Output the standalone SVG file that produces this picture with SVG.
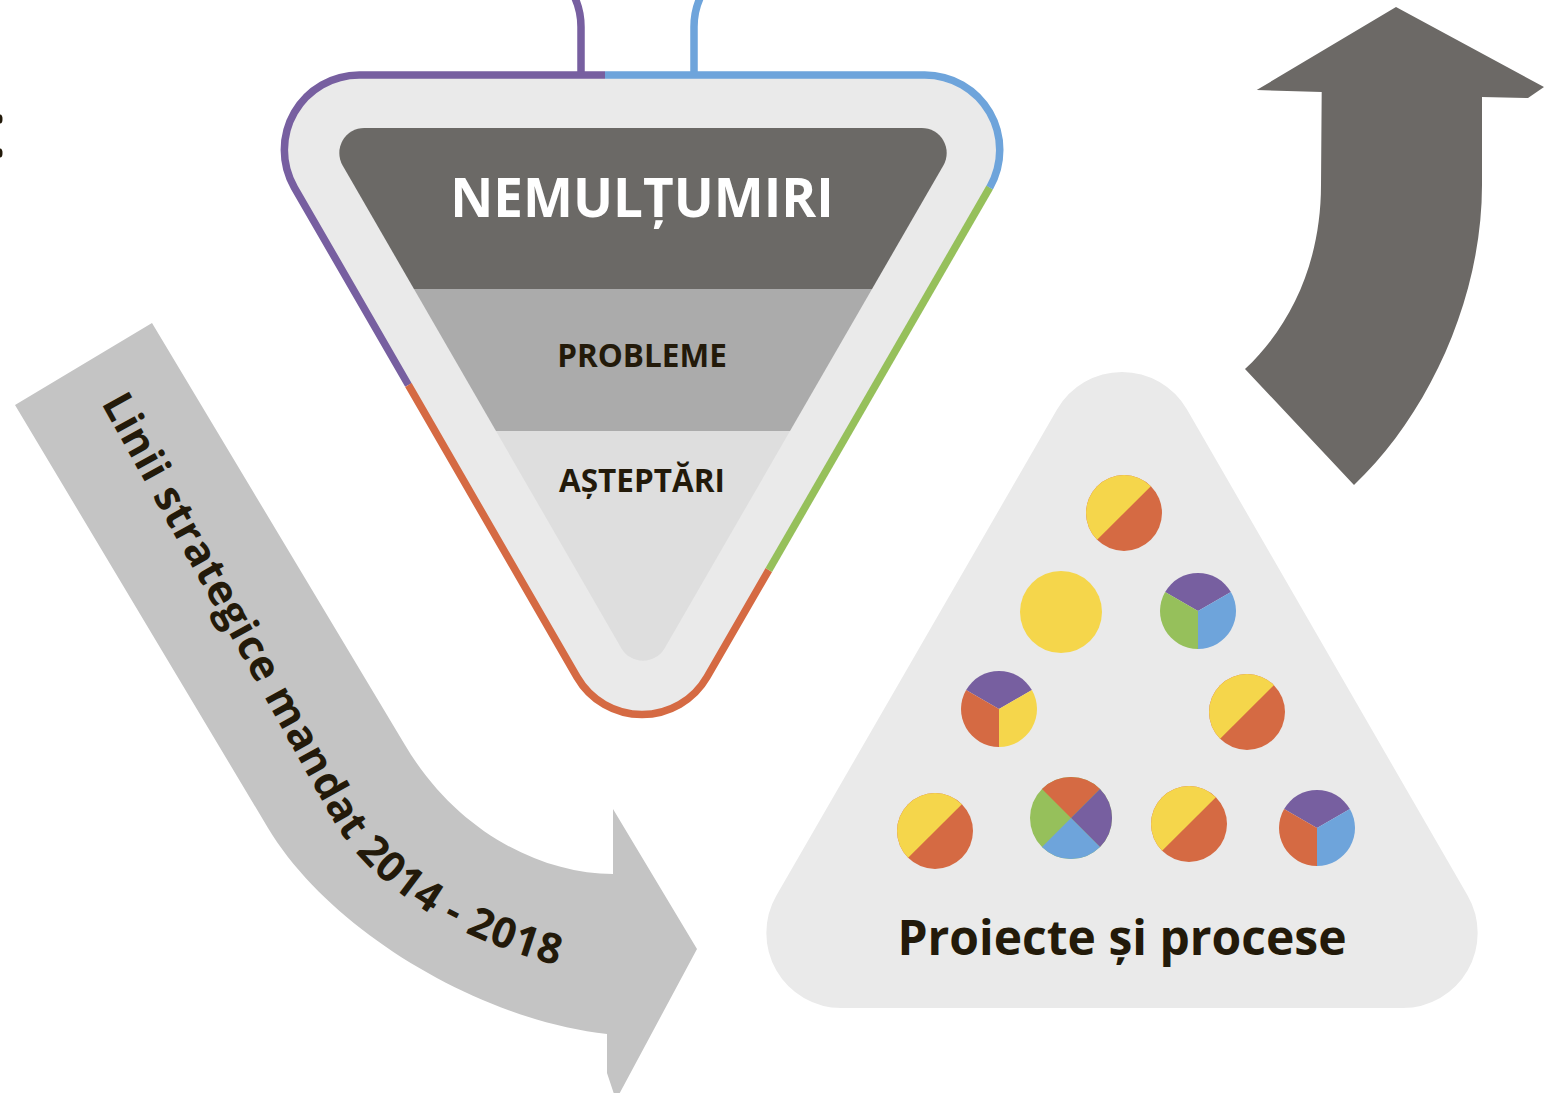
<svg xmlns="http://www.w3.org/2000/svg" xmlns:xlink="http://www.w3.org/1999/xlink" width="1555" height="1093" viewBox="0 0 1555 1093">
<style>
.t{font-family:"Open Sans","Noto Sans","Liberation Sans",sans-serif;font-weight:700;fill:#231A0A}
.seg{fill:none;stroke-width:7.5;stroke-linejoin:round}
.pu{stroke:#775FA0}.bl{stroke:#6EA4DB}.gr{stroke:#96C05B}.or{stroke:#D56A43}
</style>
<defs>
<clipPath id="inner"><path d="M364.3,128 H921.7 A25,25 0 0 1 943.35,165.5 L664.65,648.2 A25,25 0 0 1 621.35,648.2 L342.65,165.5 A25,25 0 0 1 364.3,128 Z"/></clipPath>
<path id="labelPath" d="M101,403 L330,815 C373.7,893.7 470,950 600,975 L640,980"/>
<g id="c2"><circle r="38" fill="#D56A43"/><path d="M26.87,-26.87 A38,38 0 0 0 -26.87,26.87 Z" fill="#F5D64B"/></g>
<g id="c3pgb"><path d="M0,0 L-32.9,-19 A38,38 0 0 1 32.9,-19 Z" fill="#775FA0"/><path d="M0,0 L32.9,-19 A38,38 0 0 1 0,38 Z" fill="#6EA4DB"/><path d="M0,0 L0,38 A38,38 0 0 1 -32.9,-19 Z" fill="#96C05B"/></g>
<g id="c3poy"><path d="M0,0 L-32.9,-19 A38,38 0 0 1 32.9,-19 Z" fill="#775FA0"/><path d="M0,0 L32.9,-19 A38,38 0 0 1 0,38 Z" fill="#F5D64B"/><path d="M0,0 L0,38 A38,38 0 0 1 -32.9,-19 Z" fill="#D56A43"/></g>
<g id="c3pob"><path d="M0,0 L-32.9,-19 A38,38 0 0 1 32.9,-19 Z" fill="#775FA0"/><path d="M0,0 L32.9,-19 A38,38 0 0 1 0,38 Z" fill="#6EA4DB"/><path d="M0,0 L0,38 A38,38 0 0 1 -32.9,-19 Z" fill="#D56A43"/></g>
<g id="c4"><circle r="41" fill="#96C05B"/><path d="M0,0 L-29,-29 A41,41 0 0 1 29,-29 Z" fill="#D56A43"/><path d="M0,0 L29,-29 A41,41 0 0 1 29,29 Z" fill="#775FA0"/><path d="M0,0 L29,29 A41,41 0 0 1 -29,29 Z" fill="#6EA4DB"/></g>
</defs>

<g id="edge-marks" fill="#231A0A">
<ellipse cx="0" cy="119" rx="2.5" ry="4.5"/>
<ellipse cx="0" cy="153" rx="2.5" ry="4.5"/>
</g>

<g id="connectors">
<path id="arrow-strategic" fill="#C4C4C4" d="M15,405 L152,323 L405,745 C456,831 540,874 613,874 L613,809 L697,949 L616,1100 L607,1073 L607,1034 C480,1020 330,931 268,828 Z"/>
<path id="arrow-up" fill="#6C6966" d="M1245,369 C1289,328 1321,265 1321,185 L1321.7,92 L1256.7,90 L1396,7 L1544,87 L1528,98 L1482,97 L1482,185 C1482,300 1427,416 1354,485 Z"/>
<path class="seg pu" d="M581,75 V27 A70,70 0 0 0 511,-43"/>
<path class="seg bl" d="M694,75 V27 A70,70 0 0 1 764,-43"/>
</g>

<g id="funnel">
<path fill="#EAEAEA" d="M359.4,75 H924.7 A75,75 0 0 1 989.7,187.5 L707,677 A75,75 0 0 1 577,677 L294.4,187.5 A75,75 0 0 1 359.4,75 Z"/>
<g clip-path="url(#inner)">
<rect x="300" y="120" width="700" height="169" fill="#6B6966"/>
<rect x="300" y="289" width="700" height="142" fill="#ABABAB"/>
<rect x="300" y="431" width="700" height="260" fill="#DEDEDE"/>
</g>
<path class="seg pu" d="M605,75 H359.4 A75,75 0 0 0 294.4,187.5 L408.4,385"/>
<path class="seg or" d="M408.4,385 L577,677 A75,75 0 0 0 707,677 L768.8,570"/>
<path class="seg gr" d="M768.8,570 L989.7,187.5"/>
<path class="seg bl" d="M989.7,187.5 A75,75 0 0 0 924.7,75 H605"/>
<text class="t" x="642" y="217" font-size="53" text-anchor="middle" style="fill:#FFFFFF">NEMULȚUMIRI</text>
<text class="t" x="642" y="367" font-size="31.5" text-anchor="middle">PROBLEME</text>
<text class="t" x="642" y="492" font-size="31.5" text-anchor="middle">AȘTEPTĂRI</text>
</g>

<g id="projects">
<path fill="#EAEAEA" d="M1057,409.5 A75,75 0 0 1 1187,409.5 L1467.6,895.5 A75,75 0 0 1 1402.6,1008 H841.4 A75,75 0 0 1 776.4,895.5 Z"/>
<use xlink:href="#c2" href="#c2" x="1124" y="513"/>
<circle cx="1061" cy="612" r="41" fill="#F5D64B"/>
<use xlink:href="#c3pgb" href="#c3pgb" x="1198" y="611"/>
<use xlink:href="#c3poy" href="#c3poy" x="999" y="709"/>
<use xlink:href="#c2" href="#c2" x="1247" y="712"/>
<use xlink:href="#c2" href="#c2" x="935" y="831"/>
<use xlink:href="#c4" href="#c4" x="1071" y="818"/>
<use xlink:href="#c2" href="#c2" x="1189" y="824"/>
<use xlink:href="#c3pob" href="#c3pob" x="1317" y="828"/>
<text class="t" x="1122" y="955" font-size="48" text-anchor="middle">Proiecte și procese</text>
</g>

<g id="strategic-label">
<text class="t" font-size="42" letter-spacing="0.8"><textPath xlink:href="#labelPath" href="#labelPath">Linii strategice mandat 2014 - 2018</textPath></text>
</g>
</svg>
